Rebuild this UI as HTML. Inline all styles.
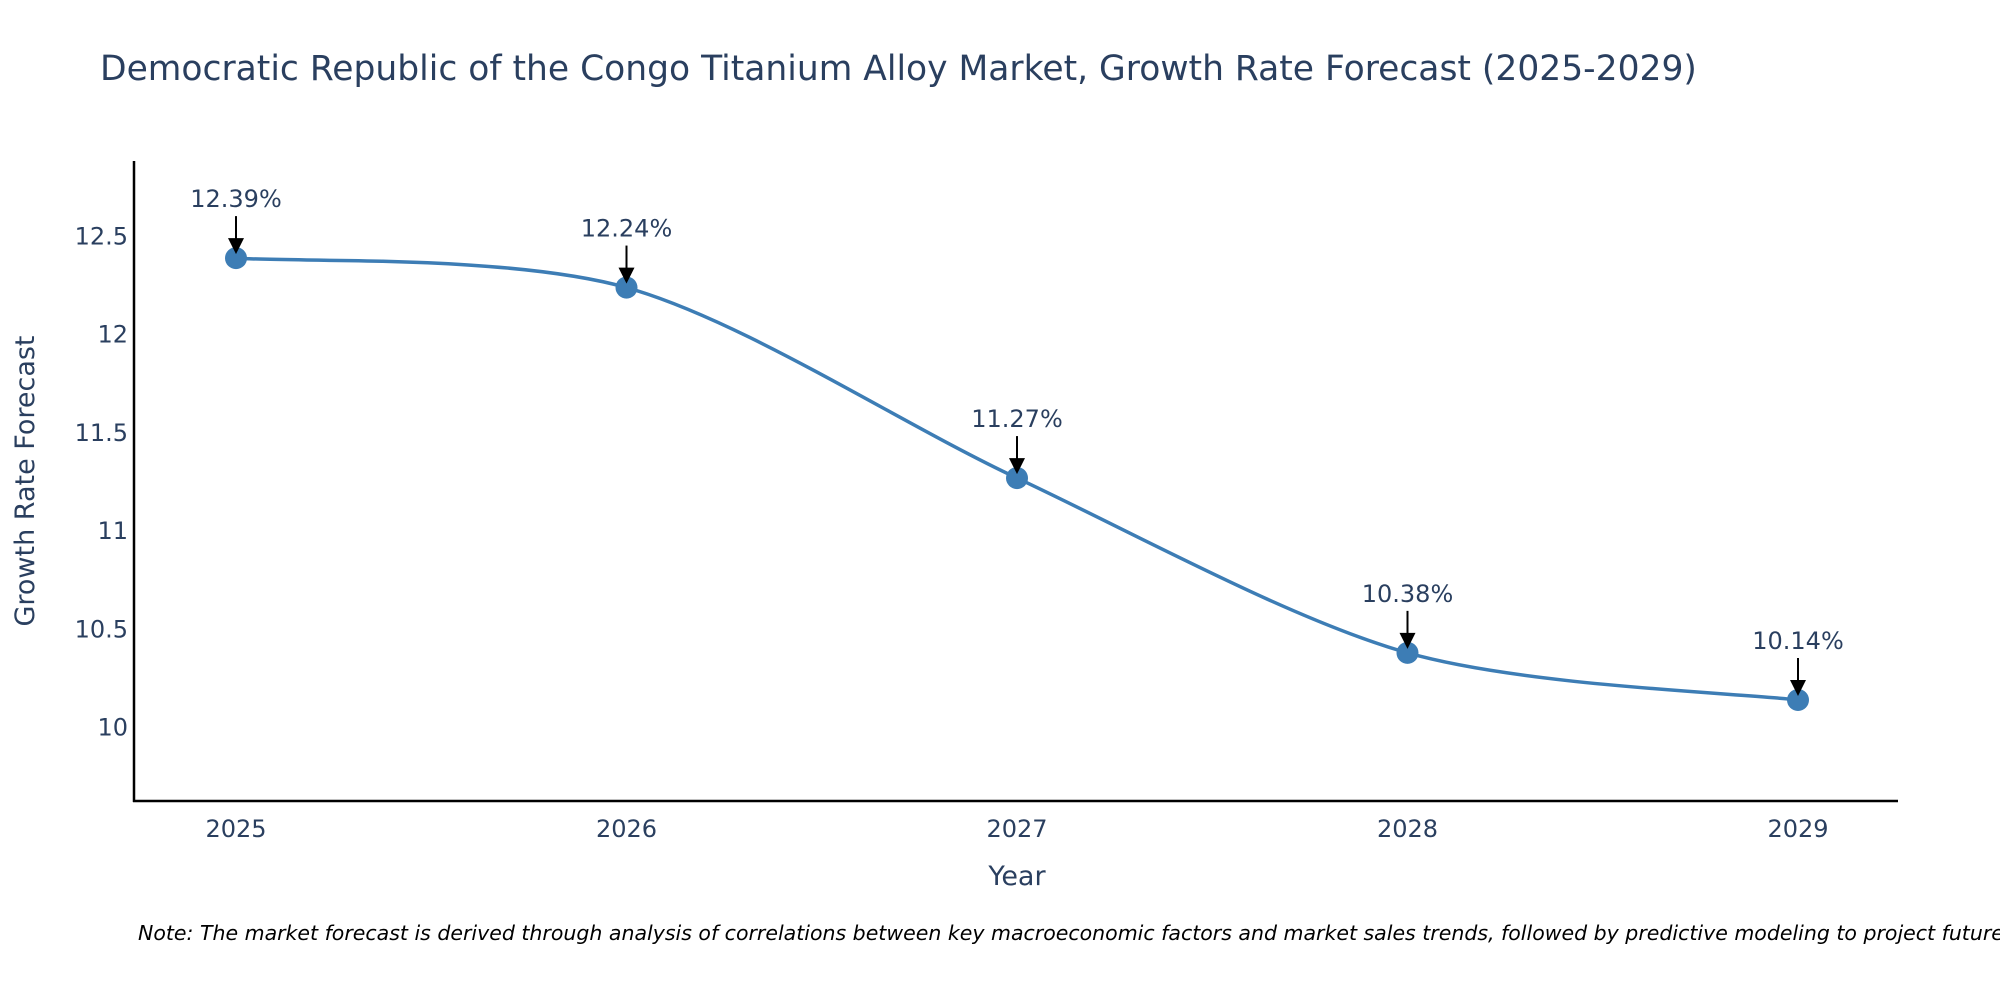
<!DOCTYPE html>
<html><head><meta charset="utf-8">
<style>
html,body{margin:0;padding:0;background:#fff;}
svg{display:block;font-family:"DejaVu Sans","Liberation Sans",sans-serif;}
</style></head>
<body>
<svg id="chart" width="2000" height="1000" viewBox="0 0 2000 1000">
<text x="100" y="80" font-size="34.5" fill="#2a3f5f">Democratic Republic of the Congo Titanium Alloy Market, Growth Rate Forecast (2025-2029)</text>
<g id="plot"></g>
<line x1="134" y1="161" x2="134" y2="802" stroke="#000" stroke-width="2.5"/>
<line x1="133" y1="801" x2="1898" y2="801" stroke="#000" stroke-width="2.5"/>
<text x="1017" y="885" font-size="27" fill="#2a3f5f" text-anchor="middle">Year</text>
<text transform="translate(34,481) rotate(-90)" font-size="27" fill="#2a3f5f" text-anchor="middle">Growth Rate Forecast</text>
<text x="138" y="940" font-size="20.5" font-style="italic" fill="#000">Note: The market forecast is derived through analysis of correlations between key macroeconomic factors and market sales trends, followed by predictive modeling to project future sales.</text>
</svg>
<script>
const years = [2025, 2026, 2027, 2028, 2029];
const values = [12.39, 12.24, 11.27, 10.38, 10.14];
const labels = ["12.39%", "12.24%", "11.27%", "10.38%", "10.14%"];
const yTicks = [10, 10.5, 11, 11.5, 12, 12.5];
const yTickLabels = ["10", "10.5", "11", "11.5", "12", "12.5"];

const NS = "http://www.w3.org/2000/svg";
const plot = document.getElementById("plot");
const x = v => 236 + (v - 2025) * (1798 - 236) / 4;
const y = v => 727.5 - (v - 10) * 196.4;
function mk(tag, attrs, parent){const e=document.createElementNS(NS,tag);for(const k in attrs)e.setAttribute(k,attrs[k]);(parent||plot).appendChild(e);return e;}

yTicks.forEach((t,i)=>{
  const e=mk("text",{x:128,y:y(t)+8,"font-size":24,fill:"#2a3f5f","text-anchor":"end"});
  e.textContent=yTickLabels[i];
  
  
});
years.forEach(yr=>{
  const e=mk("text",{x:x(yr),y:837,"font-size":24,fill:"#2a3f5f","text-anchor":"middle"});
  e.textContent=String(yr);
  
  
});

const pts = years.map((yr,i)=>[x(yr),y(values[i])]);
let d = "M"+pts[0][0]+","+pts[0][1];
const s = 0.15;
for(let i=0;i<pts.length-1;i++){
  const p0=pts[Math.max(i-1,0)], p1=pts[i], p2=pts[i+1], p3=pts[Math.min(i+2,pts.length-1)];
  const c1=[p1[0]+(p2[0]-p0[0])*s, p1[1]+(p2[1]-p0[1])*s];
  const c2=[p2[0]-(p3[0]-p1[0])*s, p2[1]-(p3[1]-p1[1])*s];
  d+=" C"+c1[0]+","+c1[1]+" "+c2[0]+","+c2[1]+" "+p2[0]+","+p2[1];
}
const line=mk("path",{d:d,fill:"none",stroke:"#3d7db5","stroke-width":3.5});



pts.forEach((p,i)=>{
  const c=mk("circle",{cx:p[0],cy:p[1],r:11,fill:"#3d7db5"});
  
  
  const a=mk("line",{x1:p[0],y1:p[1]-42,x2:p[0],y2:p[1]-16,stroke:"#000","stroke-width":2});
  
  
  const h=mk("polygon",{points:(p[0]-8)+","+(p[1]-20)+" "+(p[0]+8)+","+(p[1]-20)+" "+p[0]+","+(p[1]-4),fill:"#000"});
  
  
  const t=mk("text",{x:p[0],y:p[1]-51,"font-size":24,fill:"#2a3f5f","text-anchor":"middle"});
  t.textContent=labels[i];
  
  
});
</script>
</body></html>
